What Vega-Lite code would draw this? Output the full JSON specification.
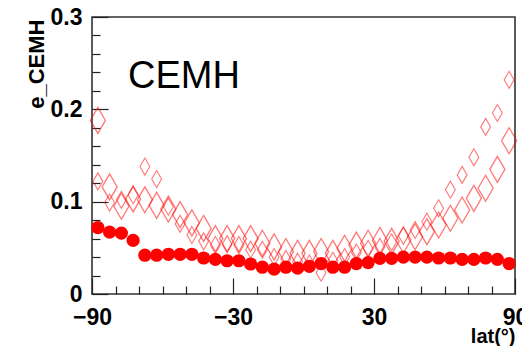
{
  "$schema": "https://vega.github.io/schema/vega-lite/v6.json",
  "width": 423,
  "height": 277,
  "autosize": {"type": "none"},
  "padding": {"left": 92, "top": 17, "right": 7, "bottom": 52},
  "background": "white",
  "config": {
    "view": {"stroke": "#333333", "strokeWidth": 1.6},
    "axis": {"domain": false, "grid": false, "tickColor": "#222222", "tickWidth": 1.2, "labelFont": "Liberation Sans", "titleFont": "Liberation Sans", "labelFlush": false}
  },
  "datasets": {
    "circles": [
      {"lat": -87.5, "v": 0.072}, {"lat": -82.5, "v": 0.067}, {"lat": -77.5, "v": 0.066}, {"lat": -72.5, "v": 0.058},
      {"lat": -67.5, "v": 0.042}, {"lat": -62.5, "v": 0.042}, {"lat": -57.5, "v": 0.043}, {"lat": -52.5, "v": 0.043},
      {"lat": -47.5, "v": 0.043}, {"lat": -42.5, "v": 0.039}, {"lat": -37.5, "v": 0.0375}, {"lat": -32.5, "v": 0.036},
      {"lat": -27.5, "v": 0.036}, {"lat": -22.5, "v": 0.0325}, {"lat": -17.5, "v": 0.029}, {"lat": -12.5, "v": 0.027},
      {"lat": -7.5, "v": 0.029}, {"lat": -2.5, "v": 0.028}, {"lat": 2.5, "v": 0.030}, {"lat": 7.5, "v": 0.033},
      {"lat": 12.5, "v": 0.029}, {"lat": 17.5, "v": 0.029}, {"lat": 22.5, "v": 0.033}, {"lat": 27.5, "v": 0.034},
      {"lat": 32.5, "v": 0.0386}, {"lat": 37.5, "v": 0.0386}, {"lat": 42.5, "v": 0.040}, {"lat": 47.5, "v": 0.040},
      {"lat": 52.5, "v": 0.040}, {"lat": 57.5, "v": 0.039}, {"lat": 62.5, "v": 0.039}, {"lat": 67.5, "v": 0.0375},
      {"lat": 72.5, "v": 0.0375}, {"lat": 77.5, "v": 0.039}, {"lat": 82.5, "v": 0.0375}, {"lat": 87.5, "v": 0.033}
    ],
    "big": [
      {"lat": -87.5, "v": 0.188}, {"lat": -82.5, "v": 0.116}, {"lat": -77.5, "v": 0.095}, {"lat": -72.5, "v": 0.103},
      {"lat": -67.5, "v": 0.102}, {"lat": -62.5, "v": 0.096}, {"lat": -57.5, "v": 0.092}, {"lat": -52.5, "v": 0.086},
      {"lat": -47.5, "v": 0.077}, {"lat": -42.5, "v": 0.071}, {"lat": -37.5, "v": 0.060}, {"lat": -32.5, "v": 0.060},
      {"lat": -27.5, "v": 0.060}, {"lat": -22.5, "v": 0.060}, {"lat": -17.5, "v": 0.055}, {"lat": -12.5, "v": 0.051},
      {"lat": -7.5, "v": 0.046}, {"lat": -2.5, "v": 0.044}, {"lat": 2.5, "v": 0.044}, {"lat": 7.5, "v": 0.046},
      {"lat": 12.5, "v": 0.044}, {"lat": 17.5, "v": 0.0495}, {"lat": 22.5, "v": 0.053}, {"lat": 27.5, "v": 0.055},
      {"lat": 32.5, "v": 0.058}, {"lat": 37.5, "v": 0.057}, {"lat": 42.5, "v": 0.0585}, {"lat": 47.5, "v": 0.062},
      {"lat": 52.5, "v": 0.0675}, {"lat": 57.5, "v": 0.0747}, {"lat": 62.5, "v": 0.082}, {"lat": 67.5, "v": 0.091},
      {"lat": 72.5, "v": 0.1036}, {"lat": 77.5, "v": 0.1145}, {"lat": 82.5, "v": 0.135}, {"lat": 87.5, "v": 0.166}
    ],
    "small": [
      {"lat": -87.5, "v": 0.122}, {"lat": -82.5, "v": 0.099}, {"lat": -77.5, "v": 0.102}, {"lat": -72.5, "v": 0.107},
      {"lat": -67.5, "v": 0.138}, {"lat": -62.5, "v": 0.1245}, {"lat": -57.5, "v": 0.0946}, {"lat": -52.5, "v": 0.076},
      {"lat": -47.5, "v": 0.064}, {"lat": -42.5, "v": 0.057}, {"lat": -37.5, "v": 0.053}, {"lat": -32.5, "v": 0.054},
      {"lat": -27.5, "v": 0.053}, {"lat": -22.5, "v": 0.048}, {"lat": -17.5, "v": 0.048}, {"lat": -12.5, "v": 0.040},
      {"lat": -7.5, "v": 0.038}, {"lat": -2.5, "v": 0.035}, {"lat": 2.5, "v": 0.033}, {"lat": 7.5, "v": 0.023},
      {"lat": 12.5, "v": 0.036}, {"lat": 17.5, "v": 0.040}, {"lat": 22.5, "v": 0.045}, {"lat": 27.5, "v": 0.049},
      {"lat": 32.5, "v": 0.051}, {"lat": 37.5, "v": 0.056}, {"lat": 42.5, "v": 0.063}, {"lat": 47.5, "v": 0.0693},
      {"lat": 52.5, "v": 0.0783}, {"lat": 57.5, "v": 0.0928}, {"lat": 62.5, "v": 0.113}, {"lat": 67.5, "v": 0.129},
      {"lat": 72.5, "v": 0.148}, {"lat": 77.5, "v": 0.181}, {"lat": 82.5, "v": 0.196}, {"lat": 87.5, "v": 0.232}
    ],
    "label": [{"lat": -74.7, "v": 0.223, "text": "CEMH"}]
  },
  "layer": [
    {
      "data": {"name": "circles"},
      "mark": {"type": "point", "shape": "circle", "filled": true, "size": 175, "color": "#ff0000", "opacity": 1},
      "encoding": {
        "x": {"field": "lat", "type": "quantitative", "scale": {"domain": [-90, 90], "nice": false, "zero": false},
          "axis": {"orient": "bottom", "values": [-90, -30, 30, 90], "ticks": false, "labelFontSize": 23, "labelFontWeight": "bold", "labelColor": "#000000", "labelPadding": 12, "labelBaseline": "top",
            "title": "lat(°)", "titleFontSize": 20, "titleFontWeight": "bold", "titleColor": "#000000", "titleX": 423, "titleY": 48, "titleAlign": "right", "titleBaseline": "alphabetic", "titleAngle": 0}},
        "y": {"field": "v", "type": "quantitative", "scale": {"domain": [0, 0.3], "nice": false, "zero": false},
          "axis": {"orient": "left", "values": [0, 0.1, 0.2, 0.3], "format": ".1~f", "ticks": false, "labelFontSize": 23, "labelFontWeight": "bold", "labelColor": "#000000", "labelPadding": 10,
            "title": "e_CEMH", "titleFontSize": 22, "titleFontWeight": "bold", "titleColor": "#000000", "titleX": -49, "titleY": 2, "titleAlign": "right", "titleBaseline": "alphabetic", "titleAngle": -90}}
      }
    },
    {
      "data": {"name": "big"},
      "mark": {"type": "point", "shape": "M0,-1L0.58,0L0,1L-0.58,0Z", "filled": false, "size": 676, "stroke": "#ff0000", "strokeWidth": 1.3, "strokeOpacity": 0.75},
      "encoding": {
        "x": {"field": "lat", "type": "quantitative", "axis": {"orient": "bottom", "values": [-90, -30, 30, 90], "labels": false, "tickSize": -16, "title": null}},
        "y": {"field": "v", "type": "quantitative", "axis": {"orient": "left", "values": [0, 0.1, 0.2, 0.3], "labels": false, "tickSize": -16, "title": null}}
      }
    },
    {
      "data": {"name": "small"},
      "mark": {"type": "point", "shape": "M0,-1L0.58,0L0,1L-0.58,0Z", "filled": false, "size": 289, "stroke": "#ff0000", "strokeWidth": 1.1, "strokeOpacity": 0.75},
      "encoding": {
        "x": {"field": "lat", "type": "quantitative", "axis": {"orient": "bottom", "values": [-80, -70, -60, -50, -40, -20, -10, 0, 10, 20, 40, 50, 60, 70, 80], "labels": false, "tickSize": -8, "title": null}},
        "y": {"field": "v", "type": "quantitative", "axis": {"orient": "left", "values": [0.02, 0.04, 0.06, 0.08, 0.12, 0.14, 0.16, 0.18, 0.22, 0.24, 0.26, 0.28], "labels": false, "tickSize": -8, "title": null}}
      }
    },
    {
      "data": {"name": "label"},
      "mark": {"type": "text", "font": "Liberation Sans", "fontSize": 38, "align": "left", "baseline": "alphabetic", "color": "#000000"},
      "encoding": {
        "x": {"field": "lat", "type": "quantitative", "axis": null},
        "y": {"field": "v", "type": "quantitative", "axis": null},
        "text": {"field": "text"}
      }
    }
  ],
  "resolve": {"axis": {"x": "independent", "y": "independent"}}
}
